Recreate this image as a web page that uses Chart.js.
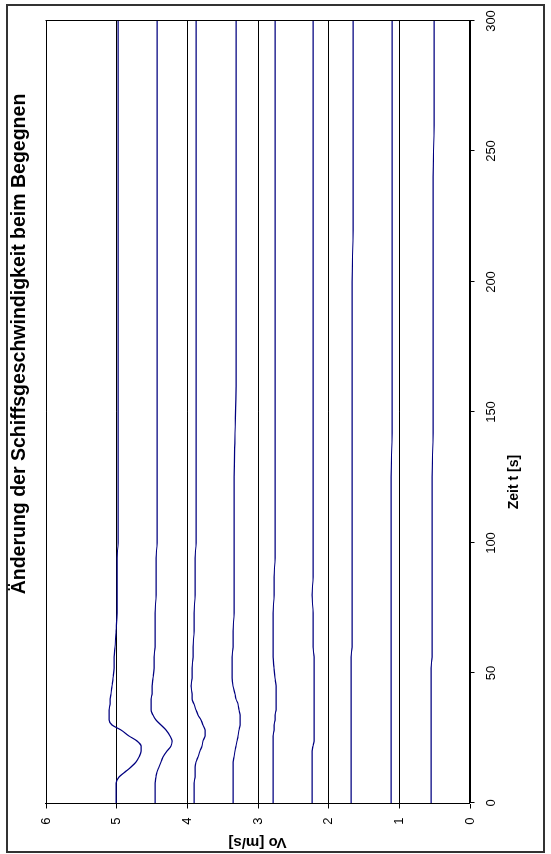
<!DOCTYPE html>
<html lang="de">
<head>
<meta charset="utf-8">
<title>Änderung der Schiffsgeschwindigkeit beim Begegnen</title>
<script src="https://cdn.jsdelivr.net/npm/chart.js@4.4.1/dist/chart.umd.min.js"></script>
<style>
  html, body { margin: 0; padding: 0; background: #fff; overflow: hidden; }
  body { width: 551px; height: 854px; position: relative; }
  #rahmen {
    position: absolute; left: 6px; top: 4px; width: 535px; height: 845px;
    border: 2px solid #333;
  }
  /* Diagramm liegt quer auf der Seite */
  #gedreht {
    position: absolute; left: 0; top: 0; width: 854px; height: 551px;
    transform-origin: 0 0;
    transform: translate(0, 854px) rotate(-90deg);
  }
  #myChart { display: block; }
</style>
</head>
<body>
<div id="rahmen"></div>
<div id="gedreht"><canvas id="myChart" width="854" height="551"></canvas></div>
<script>
// Zeitpunkte [s]
const zeit = [0, 5, 8, 10, 12, 14, 16, 18, 20, 22, 24, 26, 28, 30, 32, 34, 36, 38, 40, 42,
  45, 48, 52, 56, 60, 66, 73, 80, 87, 94, 100, 110, 125, 142, 160, 180, 200, 220, 240, 260, 280, 300];

// Geschwindigkeit Vo [m/s] je Ausgangsgeschwindigkeit
const vo18 = [5.00, 5.00, 5.00, 4.96, 4.88, 4.79, 4.72, 4.67, 4.645, 4.655, 4.71, 4.82, 4.93, 5.06, 5.095, 5.105,
  5.10, 5.09, 5.085, 5.075, 5.06, 5.05, 5.035, 5.025, 5.015, 5.00, 4.995, 4.99, 4.99, 4.99, 4.975, 4.975,
  4.975, 4.975, 4.975, 4.975, 4.973, 4.973, 4.973, 4.973, 4.973, 4.973];
const vo16 = [4.449, 4.449, 4.447, 4.44, 4.425, 4.40, 4.37, 4.335, 4.28, 4.23, 4.215, 4.235, 4.29, 4.36, 4.43, 4.48,
  4.505, 4.51, 4.505, 4.50, 4.49, 4.48, 4.47, 4.465, 4.455, 4.449, 4.445, 4.436, 4.436, 4.43, 4.418, 4.418,
  4.418, 4.418, 4.418, 4.418, 4.418, 4.418, 4.418, 4.418, 4.418, 4.418];
const vo14 = [3.893, 3.893, 3.893, 3.89, 3.887, 3.88, 3.87, 3.845, 3.815, 3.79, 3.765, 3.745, 3.742, 3.765, 3.80, 3.835,
  3.875, 3.905, 3.925, 3.933, 3.935, 3.93, 3.922, 3.915, 3.91, 3.902, 3.896, 3.884, 3.884, 3.878, 3.870, 3.870,
  3.870, 3.870, 3.870, 3.870, 3.870, 3.870, 3.870, 3.870, 3.870, 3.870];
const vo12 = [3.342, 3.342, 3.342, 3.342, 3.342, 3.342, 3.34, 3.335, 3.32, 3.30, 3.285, 3.27, 3.255, 3.248, 3.245, 3.25,
  3.26, 3.28, 3.30, 3.325, 3.35, 3.358, 3.358, 3.355, 3.352, 3.345, 3.338, 3.338, 3.332, 3.328, 3.328, 3.328,
  3.328, 3.315, 3.311, 3.311, 3.311, 3.308, 3.308, 3.306, 3.306, 3.306];
const vo10 = [2.782, 2.782, 2.782, 2.782, 2.782, 2.782, 2.782, 2.782, 2.782, 2.782, 2.778, 2.774, 2.769, 2.765, 2.758, 2.75,
  2.744, 2.74, 2.737, 2.737, 2.74, 2.75, 2.765, 2.778, 2.782, 2.782, 2.777, 2.77, 2.765, 2.759, 2.759, 2.759,
  2.759, 2.759, 2.759, 2.759, 2.759, 2.759, 2.759, 2.759, 2.759, 2.759];
const vo8 = [2.222, 2.222, 2.222, 2.222, 2.222, 2.222, 2.222, 2.222, 2.222, 2.215, 2.204, 2.204, 2.204, 2.204, 2.204, 2.204,
  2.204, 2.197, 2.197, 2.197, 2.197, 2.197, 2.197, 2.20, 2.208, 2.208, 2.218, 2.222, 2.22, 2.208, 2.208, 2.208,
  2.208, 2.208, 2.208, 2.208, 2.208, 2.208, 2.208, 2.208, 2.208, 2.208];
const vo6 = [1.671, 1.671, 1.671, 1.671, 1.671, 1.671, 1.671, 1.671, 1.671, 1.671, 1.671, 1.671, 1.671, 1.671, 1.671, 1.671,
  1.671, 1.671, 1.671, 1.671, 1.671, 1.671, 1.671, 1.671, 1.661, 1.661, 1.661, 1.661, 1.661, 1.661, 1.661, 1.661,
  1.661, 1.661, 1.661, 1.661, 1.661, 1.648, 1.648, 1.648, 1.648, 1.648];
const vo4 = [1.106, 1.106, 1.106, 1.106, 1.106, 1.106, 1.106, 1.106, 1.106, 1.106, 1.106, 1.106, 1.106, 1.106, 1.106, 1.106,
  1.106, 1.106, 1.106, 1.106, 1.106, 1.106, 1.106, 1.106, 1.106, 1.106, 1.106, 1.106, 1.106, 1.106, 1.106, 1.106,
  1.106, 1.10, 1.10, 1.10, 1.10, 1.10, 1.10, 1.10, 1.10, 1.10];
const vo2 = [0.546, 0.546, 0.546, 0.546, 0.546, 0.546, 0.546, 0.546, 0.546, 0.546, 0.546, 0.546, 0.546, 0.546, 0.546, 0.546,
  0.546, 0.546, 0.546, 0.546, 0.546, 0.546, 0.546, 0.532, 0.532, 0.532, 0.532, 0.532, 0.532, 0.532, 0.532, 0.532,
  0.532, 0.52, 0.52, 0.52, 0.52, 0.52, 0.52, 0.509, 0.509, 0.509];

const reihen = [vo18, vo16, vo14, vo12, vo10, vo8, vo6, vo4, vo2];

const titel = "Änderung der Schiffsgeschwindigkeit beim Begegnen";
const xTitel = "Zeit t [s]";
const yTitel = "Vo [m/s]";
const schrift = "'Liberation Sans', Arial, sans-serif";

// Überschrift und Zeitachsen-Beschriftung frei platziert
const beschriftung = {
  id: "beschriftung",
  afterDraw(chart) {
    const c = chart.ctx;
    c.save();
    c.fillStyle = "#000";
    c.textAlign = "center";
    c.textBaseline = "middle";
    c.font = "bold 19.5px " + schrift;
    c.fillText(titel, 510, 20);
    c.font = "bold 14px " + schrift;
    c.fillText(xTitel, 372, 514);
    c.restore();
  },
};

const ctx = document.getElementById("myChart").getContext("2d");

new Chart(ctx, {
  type: "line",
  data: {
    datasets: reihen.map((werte, i) => ({
      label: "Reihe " + (i + 1),
      data: zeit.map((t, j) => ({ x: t, y: werte[j] })),
      borderColor: "#000080",
      borderWidth: 1.25,
      pointRadius: 0,
      fill: false,
      cubicInterpolationMode: "monotone",
    })),
  },
  options: {
    responsive: false,
    animation: false,
    layout: { padding: { left: 0, right: 20, top: 45.5, bottom: 0 } },
    plugins: {
      legend: { display: false },
      tooltip: { enabled: false },
      title: { display: false },
    },
    scales: {
      x: {
        type: "linear",
        min: 0,
        max: 300,
        alignToPixels: true,
        ticks: { stepSize: 50, color: "#000", padding: 9.5, maxRotation: 0, font: { family: schrift, size: 13 } },
        grid: {
          color: (c) => (c.tick && c.tick.value === 300 ? "#000" : "rgba(0,0,0,0)"),
          tickColor: "#000",
          tickLength: 5,
          lineWidth: 1,
        },
        border: { color: "#000", width: 1 },
        afterFit: (scale) => { scale.height = 81.5; },
      },
      y: {
        min: 0,
        max: 6,
        alignToPixels: true,
        ticks: { stepSize: 1, color: "#000", padding: 9, font: { family: schrift, size: 13 } },
        grid: { color: "#000", tickColor: "#000", tickLength: 5, lineWidth: 1 },
        border: { color: "#000", width: 1 },
        title: {
          display: true,
          text: yTitel,
          color: "#000",
          font: { family: schrift, size: 15, weight: "bold" },
          padding: { top: 3, bottom: 0 },
        },
        afterFit: (scale) => { scale.width = 50.5; },
      },
    },
  },
  plugins: [beschriftung],
});
</script>
</body>
</html>
